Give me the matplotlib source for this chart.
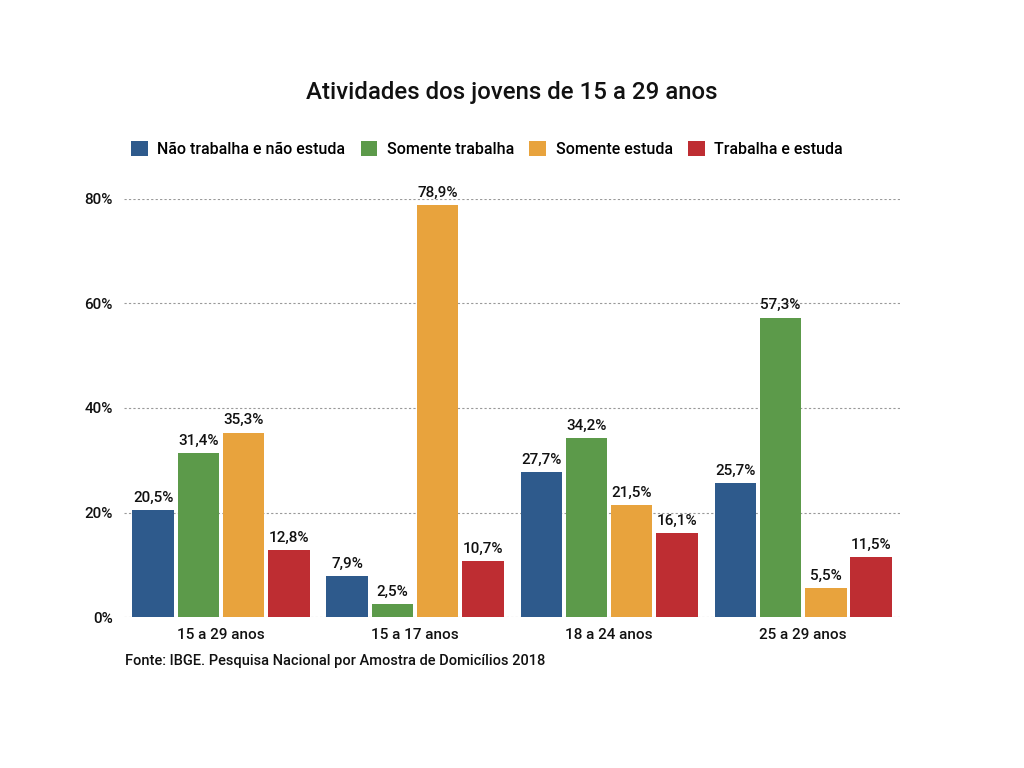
import numpy as np
import matplotlib.pyplot as plt
from matplotlib.patches import Patch

plt.rcParams['font.family'] = ['Roboto', 'DejaVu Sans']

# Data
groups = ["15 a 29 anos", "15 a 17 anos", "18 a 24 anos", "25 a 29 anos"]
series = ["Não trabalha e não estuda", "Somente trabalha", "Somente estuda", "Trabalha e estuda"]
nao_trabalha_nao_estuda = [20.5, 7.9, 27.7, 25.7]
somente_trabalha = [31.4, 2.5, 34.2, 57.3]
somente_estuda = [35.3, 78.9, 21.5, 5.5]
trabalha_e_estuda = [12.8, 10.7, 16.1, 11.5]
colors = ["#2E5A8C", "#5C9A4A", "#E8A33D", "#BE2D32"]

values = [nao_trabalha_nao_estuda, somente_trabalha, somente_estuda, trabalha_e_estuda]

fig = plt.figure(figsize=(10.24, 7.68), dpi=100)
ax = fig.add_axes([0.1211, 0.1966, 0.758, 0.5443])

x = np.arange(len(groups))
width = 0.214
step = 0.233
for i, (vals, col) in enumerate(zip(values, colors)):
    pos = x + (i - 1.5) * step
    bars = ax.bar(pos, vals, width=width, color=col, zorder=3)
    for b, v in zip(bars, vals):
        ax.text(b.get_x() + b.get_width() / 2, v + 1.0,
                f"{v:.1f}%".replace(".", ","), ha="center", va="bottom",
                fontsize=11, fontweight="medium", color="#111111", clip_on=False)

ax.set_xlim(-0.5, 3.5)
ax.set_ylim(0, 80)
ax.set_yticks([0, 20, 40, 60, 80])
ax.set_yticklabels([f"{t}%" for t in [0, 20, 40, 60, 80]])
ax.set_xticks(x)
ax.set_xticklabels(groups)
ax.grid(axis="y", linestyle=(0, (2, 2)), color="#999999", linewidth=0.8, zorder=0)
ax.tick_params(axis="both", length=0, labelsize=11, colors="#111111")
ax.tick_params(axis="y", pad=8)
ax.tick_params(axis="x", pad=8)
for lab in ax.get_xticklabels() + ax.get_yticklabels():
    lab.set_fontweight("medium")
for s in ax.spines.values():
    s.set_visible(False)

fig.text(0.5, 1 - 93 / 768, "Atividades dos jovens de 15 a 29 anos",
         ha="center", va="center", fontsize=17.3, fontweight="medium", color="#111111")

handles = [Patch(facecolor=c, edgecolor="none") for c in colors]
fig.legend(handles, series, loc="center", bbox_to_anchor=(487 / 1024, 1 - 149 / 768),
           ncol=4, frameon=False, handlelength=1.05, handleheight=1.05,
           handletextpad=0.6, columnspacing=0.95, prop={"weight": "medium", "size": 11.5})

fig.text(125 / 1024, 1 - 661 / 768, "Fonte: IBGE. Pesquisa Nacional por Amostra de Domicílios 2018",
         ha="left", va="center", fontsize=10.5, fontweight="medium", color="#111111")

fig.savefig("out.png", dpi=100, facecolor="white")
